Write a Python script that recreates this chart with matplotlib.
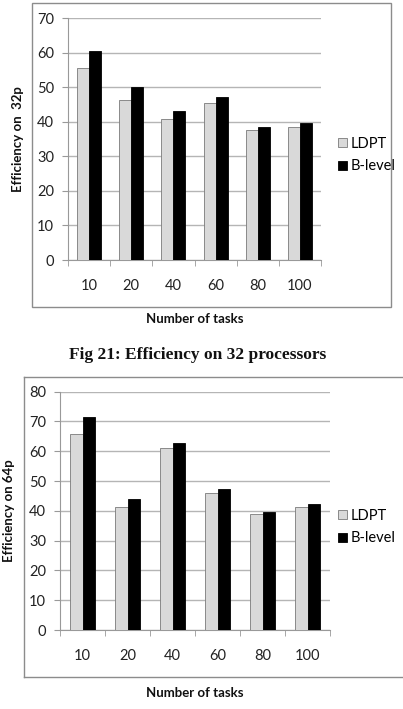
import matplotlib.pyplot as plt
from matplotlib.patches import Rectangle
from matplotlib.lines import Line2D
import numpy as np

tasks = ['10', '20', '40', '60', '80', '100']

ldpt_32 = [55.6, 46.2, 40.9, 45.4, 37.5, 38.6]
blevel_32 = [60.5, 50.0, 43.2, 47.2, 38.4, 39.7]

ldpt_64 = [65.7, 41.4, 61.2, 46.1, 38.9, 41.3]
blevel_64 = [71.6, 44.1, 62.7, 47.2, 39.6, 42.4]

W, H = 403, 709
plt.rcParams['font.family'] = ['Lato', 'DejaVu Sans']

fig = plt.figure(figsize=(W / 100, H / 100), dpi=100)


def px_axes(left, top, right, bottom):
    return fig.add_axes([left / W, 1 - bottom / H, (right - left) / W, (bottom - top) / H])


def draw_chart(ax, ldpt, blevel, ymax, ylabel, ylab_x, xlab_y, leg_y):
    x = np.arange(len(tasks))
    w = 0.286
    ax.bar(x - w / 2, ldpt, w, color='#d9d9d9', edgecolor='#7a7a7a', linewidth=0.6, label='LDPT', zorder=3)
    ax.bar(x + w / 2, blevel, w, color='#000000', edgecolor='#000000', linewidth=0.6, label='B-level', zorder=3)
    ax.set_xlim(-0.5, len(tasks) - 0.5)
    ax.set_ylim(0, ymax)
    ax.set_yticks(np.arange(0, ymax + 1, 10))
    ax.set_xticks(x)
    ax.set_xticklabels(tasks)
    ax.set_xticks(np.arange(-0.5, len(tasks)), minor=True)
    ax.tick_params(axis='x', which='major', length=0, pad=14, labelsize=10.5, colors='#222222')
    ax.tick_params(axis='x', which='minor', length=4, color='#999999', direction='out')
    ax.tick_params(axis='y', length=4, color='#999999', labelsize=10.5, colors='#222222', pad=6)
    ax.grid(axis='y', color='#b5b5b5', linewidth=1, zorder=0)
    for s in ['top', 'right']:
        ax.spines[s].set_visible(False)
    ax.spines['left'].set_color('#999999')
    ax.spines['bottom'].set_color('#999999')
    ax.set_axisbelow(True)
    pos = ax.get_position()
    fig.text(ylab_x / W, (pos.y0 + pos.y1) / 2, ylabel, rotation=90, ha='center', va='center',
             fontsize=9.5, fontweight='bold', color='#111111')
    fig.text((pos.x0 + pos.x1) / 2, 1 - xlab_y / H, 'Number of tasks', ha='center', va='center',
             fontsize=9.5, fontweight='bold', color='#111111')
    ax.legend(loc='center left', bbox_to_anchor=(332 / W, 1 - leg_y / H), bbox_transform=fig.transFigure,
              frameon=False, fontsize=10.5, handlelength=0.6, handleheight=0.6, handletextpad=0.3,
              labelspacing=0.6, borderaxespad=0)


ax1 = px_axes(68, 18, 321, 260)
draw_chart(ax1, ldpt_32, blevel_32, 70, 'Efficiency on  32p', 18, 319, 155)

ax2 = px_axes(60, 391.7, 330, 630)
draw_chart(ax2, ldpt_64, blevel_64, 80, 'Efficiency on 64p', 9, 693, 527)

# chart area borders
fig.add_artist(Rectangle((32 / W, 1 - 307 / H), (391 - 32) / W, (307 - 3) / H, transform=fig.transFigure,
                         fill=False, edgecolor='#8c8c8c', linewidth=1))
for xs, ys in [([24, 403], [377, 377]), ([24, 24], [377, 677]), ([24, 403], [677, 677])]:
    fig.add_artist(Line2D([v / W for v in xs], [1 - v / H for v in ys], transform=fig.transFigure,
                          color='#8c8c8c', linewidth=1))

fig.text(198 / W, 1 - 355 / H, 'Fig 21: Efficiency on 32 processors', ha='center', va='center',
         fontsize=12.5, fontweight='bold', family='Liberation Serif', color='#111111')

fig.savefig('out.png', dpi=100)
